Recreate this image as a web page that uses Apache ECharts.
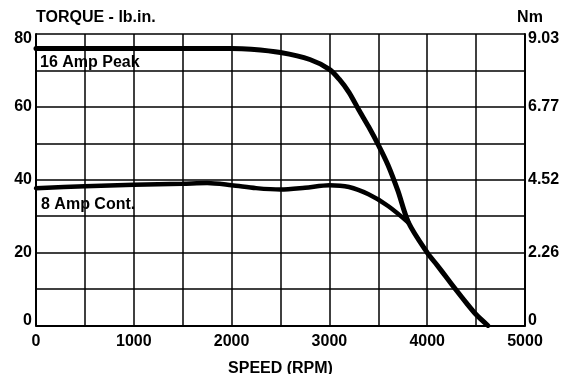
<!DOCTYPE html>
<html>
<head>
<meta charset="utf-8">
<script src="https://cdn.jsdelivr.net/npm/echarts@6/dist/echarts.min.js"></script>
<style>
  html, body { margin: 0; padding: 0; background: #fff; }
  #chart { width: 562px; height: 374px; }
</style>
</head>
<body>
<div id="chart"></div>
<script>
// speed (RPM) / torque (lb.in.)
const rpmPeak = [0, 500, 1000, 1500, 2000, 2200, 2500, 2800, 3000, 3100, 3200, 3300, 3400, 3500, 3600, 3700, 3810, 4000, 4100, 4200, 4300, 4400, 4500, 4620];
const torquePeak = [76, 76, 76, 76, 76, 75.8, 74.9, 73, 70.3, 67.6, 64, 59.2, 54.6, 49.6, 44, 37, 28.2, 20, 16.6, 13.1, 9.6, 6.2, 3, 0];
const rpmCont = [0, 500, 1000, 1500, 1750, 2000, 2250, 2500, 2750, 3000, 3200, 3400, 3600, 3810];
const torqueCont = [37.7, 38.2, 38.6, 38.9, 39.1, 38.5, 37.7, 37.3, 37.8, 38.5, 38, 36, 32.8, 28.2];
const speedLabels = [0, 1000, 2000, 3000, 4000, 5000];
const torqueLabels = [0, 20, 40, 60, 80];
const nmLabels = ["0", "2.26", "4.52", "6.77", "9.03"];

const font = "Liberation Sans, Arial, sans-serif";
const txt = { color: "#000", fontFamily: font, fontWeight: "bold", fontSize: 16 };

const chart = echarts.init(document.getElementById("chart"));
const option = {
  animation: false,
  grid: { left: 36, right: 37, top: 34, bottom: 48.5, containLabel: false, outerBoundsMode: "none" },
  xAxis: {
    type: "value",
    min: 0,
    max: 5000,
    interval: 500,
    name: "SPEED (RPM)",
    nameLocation: "middle",
    nameGap: 35,
    nameTextStyle: txt,
    axisLine: { show: true, lineStyle: { color: "#000", width: 2 } },
    axisTick: { show: false },
    splitLine: { show: true, lineStyle: { color: "#000", width: 1.5 } },
    axisLabel: Object.assign({}, txt, {
      margin: 8,
      formatter: v => (speedLabels.indexOf(v) >= 0 ? String(v) : "")
    })
  },
  yAxis: [
    {
      type: "value",
      min: 0,
      max: 80,
      interval: 10,
      name: "TORQUE - lb.in.",
      nameLocation: "end",
      nameGap: 16,
      nameTextStyle: Object.assign({}, txt, { align: "left", verticalAlign: "middle" }),
      axisLine: { show: true, lineStyle: { color: "#000", width: 2 } },
      axisTick: { show: false },
      splitLine: { show: true, lineStyle: { color: "#000", width: 1.5 } },
      axisLabel: Object.assign({}, txt, {
        margin: 4,
        lineHeight: 10,
        verticalAlignMinLabel: "bottom",
        verticalAlignMaxLabel: "top",
        formatter: v => (torqueLabels.indexOf(v) >= 0 ? String(v) : "")
      })
    },
    {
      type: "value",
      position: "right",
      min: 0,
      max: 80,
      interval: 10,
      name: "Nm",
      nameLocation: "end",
      nameGap: 16,
      nameTextStyle: Object.assign({}, txt, { align: "center", verticalAlign: "middle", padding: [0, 0, 0, 10] }),
      axisLine: { show: true, lineStyle: { color: "#000", width: 2 } },
      axisTick: { show: false },
      splitLine: { show: false },
      axisLabel: Object.assign({}, txt, {
        margin: 3,
        lineHeight: 10,
        verticalAlignMinLabel: "bottom",
        verticalAlignMaxLabel: "top",
        formatter: v => {
          const i = torqueLabels.indexOf(v);
          return i >= 0 ? nmLabels[i] : "";
        }
      })
    }
  ],
  graphic: [
    { type: "text", left: 40, top: 55, style: { text: "16 Amp Peak", fill: "#000", font: "bold 16px " + font } },
    { type: "text", left: 41, top: 197, style: { text: "8 Amp Cont.", fill: "#000", font: "bold 16px " + font } }
  ],
  series: [
    {
      name: "16 Amp Peak",
      type: "line",
      smooth: 0.3,
      showSymbol: false,
      lineStyle: { color: "#000", width: 5, cap: "round" },
      data: rpmPeak.map((r, i) => [r, torquePeak[i]]),
      z: 5
    },
    {
      name: "8 Amp Cont.",
      type: "line",
      smooth: 0.3,
      showSymbol: false,
      lineStyle: { color: "#000", width: 4.5, cap: "round" },
      data: rpmCont.map((r, i) => [r, torqueCont[i]]),
      z: 5
    }
  ]
};
chart.setOption(option);
</script>
</body>
</html>
